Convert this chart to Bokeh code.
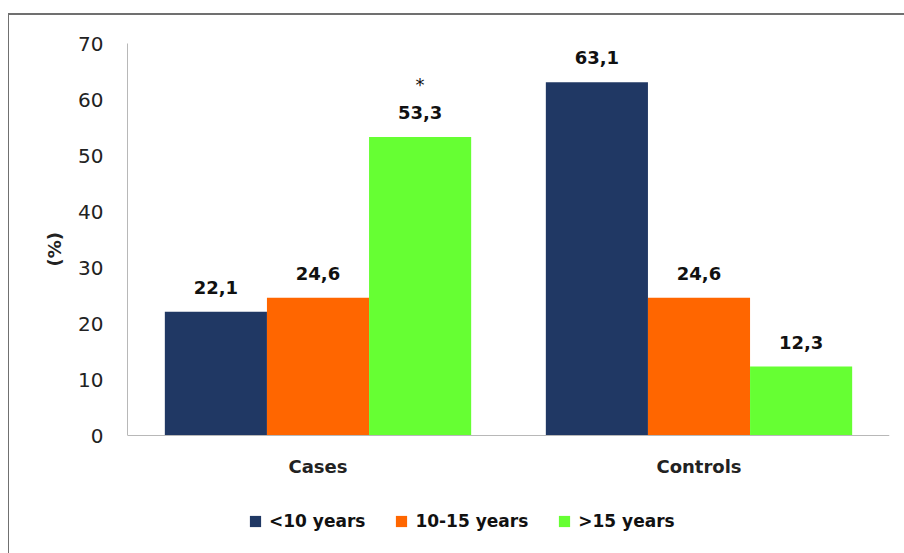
from bokeh.plotting import figure
from bokeh.models import (ColumnDataSource, FactorRange, Legend, LegendItem, InlineStyleSheet,
                          Span, Title)
from bokeh.transform import dodge
from bokeh.core.properties import value
from bokeh.embed import file_html
from bokeh.resources import INLINE

groups = ["Cases", "Controls"]
series_names = ["<10 years", "10-15 years", ">15 years"]
series_colors = ["#203864", "#FF6600", "#66FF33"]
lt10 = [22.1, 63.1]
mid = [24.6, 24.6]
gt15 = [53.3, 12.3]
marks_gt15 = ["*", ""]
y_ticks = [0, 10, 20, 30, 40, 50, 60, 70]
y_max = 70
y_label = "(%)"

FONT = "DejaVu Sans"

def fmt(v):
    return ("%.1f" % v).replace(".", ",")

src = ColumnDataSource(dict(
    g=groups, a=lt10, b=mid, c=gt15,
    la=[fmt(v) for v in lt10], lb=[fmt(v) for v in mid], lc=[fmt(v) for v in gt15],
    mc=marks_gt15,
))
gsrc = ColumnDataSource(dict(g=groups, y0=[0, 0]))

frame_css = InlineStyleSheet(css="""
:host::after {
  content: ""; position: absolute; left: 8px; top: 13px; right: -20px; bottom: -20px;
  border-top: 2px solid #707070; border-left: 1.5px solid #707070; pointer-events: none;
}
""")

# plot frame: top 43px, zero line at 435px, frame extended to 545px to host the legend
TOP, ZERO, BOTTOM = 43, 435, 545
px_per_unit = (ZERO - TOP) / y_max
y_start = -(BOTTOM - ZERO) / px_per_unit

p = figure(width=904, height=553, x_range=FactorRange(*groups), y_range=(y_start, y_max),
           output_backend="svg", toolbar_location=None, x_axis_location=None,
           min_border_left=127, min_border_right=15, min_border_top=TOP,
           min_border_bottom=553 - BOTTOM,
           stylesheets=[frame_css])
p.background_fill_color = "white"
p.border_fill_color = "white"
p.outline_line_color = None
p.xgrid.grid_line_color = None
p.ygrid.grid_line_color = None

w = 0.268
offs = [-w, 0.0, w]
cols = ["a", "b", "c"]
lcols = ["la", "lb", "lc"]
renderers = []
for i in range(3):
    r = p.vbar(x=dodge("g", offs[i], range=p.x_range), top=cols[i], width=w, source=src,
               fill_color=series_colors[i], line_color=None)
    renderers.append(r)
    p.text(x=dodge("g", offs[i], range=p.x_range), y=cols[i], text=lcols[i], source=src,
           text_align="center", text_baseline="bottom", y_offset=-18,
           text_font=value(FONT), text_font_style="bold", text_font_size="18px",
           text_color="#111111")

p.text(x=dodge("g", offs[2], range=p.x_range), y="c", text="mc", source=src,
       text_align="center", text_baseline="bottom", y_offset=-42,
       text_font=value(FONT), text_font_size="18px", text_color="#111111")

# x axis line at zero and category labels
p.add_layout(Span(location=0, dimension="width", line_color="#b8b8b8", line_width=1))
p.text(x="g", y="y0", text="g", source=gsrc, text_align="center", text_baseline="middle",
       y_offset=31, text_font=value(FONT), text_font_style="bold", text_font_size="18px",
       text_color="#222222")

p.yaxis.ticker = y_ticks
p.yaxis.bounds = (0, y_max)
p.yaxis.major_tick_line_color = None
p.yaxis.minor_tick_line_color = None
p.yaxis.axis_line_color = "#b8b8b8"
p.yaxis.major_label_text_font = FONT
p.yaxis.major_label_text_font_size = "20px"
p.yaxis.major_label_text_color = "#222222"
p.yaxis.major_label_standoff = 18

ytitle = Title(text=y_label, align="left", offset=BOTTOM - 266, standoff=22,
               text_font=FONT, text_font_style="bold", text_font_size="18px",
               text_color="#222222")
p.add_layout(ytitle, "left")

legend = Legend(items=[LegendItem(label=series_names[i], renderers=[renderers[i]]) for i in range(3)],
                orientation="horizontal", location=(121, 14),
                label_text_font=FONT, label_text_font_style="bold", label_text_font_size="17px",
                label_text_color="#111111",
                glyph_width=14, glyph_height=14, label_standoff=7, spacing=29,
                padding=0, margin=0, border_line_color=None, background_fill_alpha=0)
p.add_layout(legend, "center")

open("out.html", "w").write(file_html(p, INLINE))
